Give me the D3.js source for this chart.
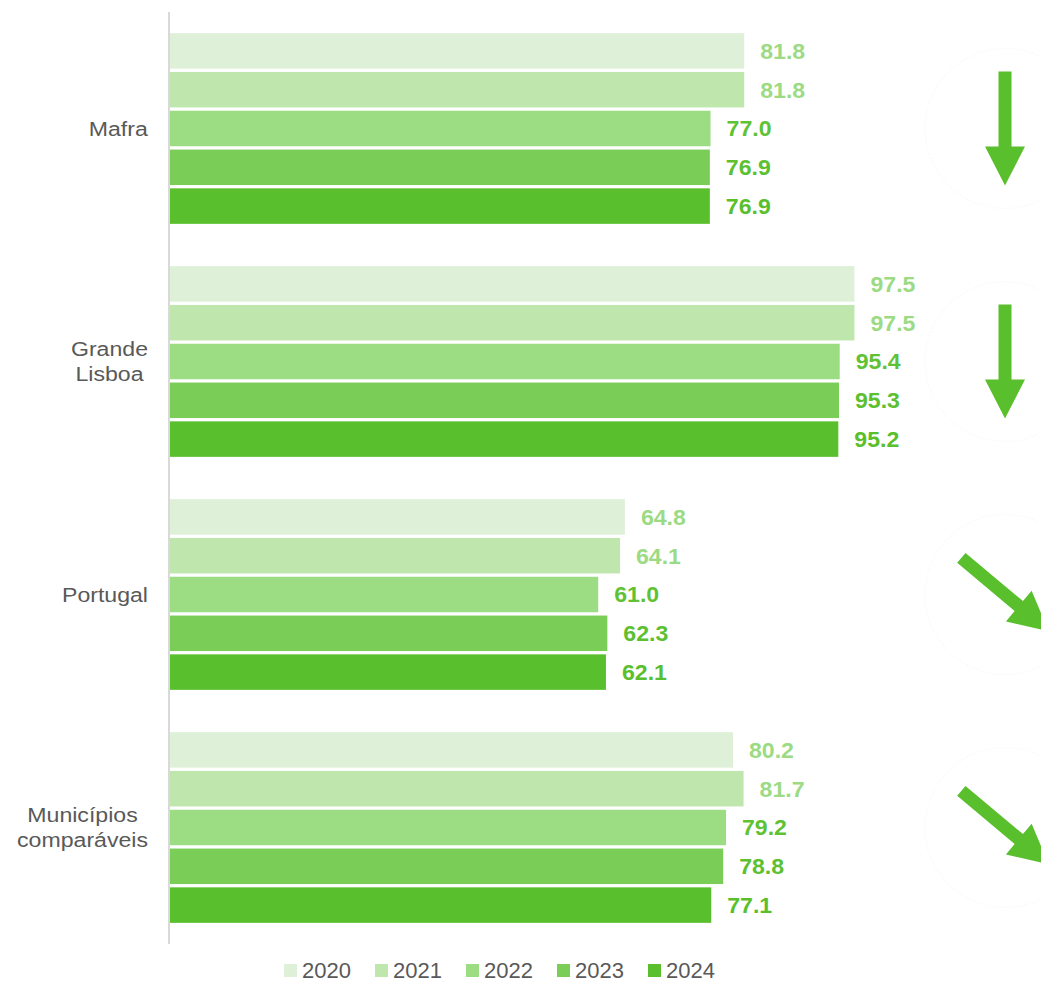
<!DOCTYPE html>
<html>
<head>
<meta charset="utf-8">
<script src="https://cdn.jsdelivr.net/npm/d3@7"></script>
<style>
  body { margin: 0; background: #fff; }
  svg text { font-family: Arial, "Liberation Sans", sans-serif; }
</style>
</head>
<body>
<svg id="chart"></svg>
<script>
// data
const categories = ["Mafra", "Grande Lisboa", "Portugal", "Municípios comparáveis"];
const categoryLines = [["Mafra"], ["Grande", "Lisboa"], ["Portugal"], ["Municípios", "comparáveis"]];
const years = ["2020", "2021", "2022", "2023", "2024"];
const values2020 = [81.8, 97.5, 64.8, 80.2];
const values2021 = [81.8, 97.5, 64.1, 81.7];
const values2022 = [77.0, 95.4, 61.0, 79.2];
const values2023 = [76.9, 95.3, 62.3, 78.8];
const values2024 = [76.9, 95.2, 62.1, 77.1];
// trend arrow direction in degrees (90 = straight down)
const trendAngles = [90, 90, 40, 40];

const seriesValues = [values2020, values2021, values2022, values2023, values2024];
const barColors = ["#dff0d8", "#bfe6ac", "#9cdc83", "#7acd57", "#5abf2c"];
const labelColors = ["#9cdb84", "#9cdb84", "#5fc235", "#5cc030", "#5abf2c"];

const W = 1041, H = 982;
const svg = d3.select("#chart").attr("width", W).attr("height", H);

const x = d3.scaleLinear().domain([0, 100]).range([170, 872]);
const y0 = d3.scaleBand().domain(categories).range([12, 944]).padding(0);
const y1 = d3.scaleBand().domain(years).range([0, y0.bandwidth()])
    .paddingInner(0.085).paddingOuter(0.545);

// axis line
svg.append("line")
    .attr("x1", 169).attr("x2", 169)
    .attr("y1", 12).attr("y2", 944)
    .attr("stroke", "#d9d9d9").attr("stroke-width", 2);

// bars
const rows = [];
categories.forEach((c, i) => {
  years.forEach((yr, j) => rows.push({ cat: c, year: yr, j: j, value: seriesValues[j][i] }));
});

svg.append("g").selectAll("rect")
  .data(rows)
  .enter().append("rect")
  .attr("x", x(0))
  .attr("y", d => y0(d.cat) + y1(d.year))
  .attr("width", d => x(d.value) - x(0))
  .attr("height", y1.bandwidth())
  .attr("fill", d => barColors[d.j]);

// value labels
svg.append("g").selectAll("text")
  .data(rows)
  .enter().append("text")
  .attr("transform", d => `translate(${x(d.value) + 16},${y0(d.cat) + y1(d.year) + y1.bandwidth() / 2}) scale(1.05,1)`)
  .attr("dy", "0.36em")
  .attr("font-size", 22)
  .attr("font-weight", "bold")
  .attr("fill", d => labelColors[d.j])
  .text(d => d.value.toFixed(1));

// category labels
categories.forEach((c, i) => {
  const lines = categoryLines[i];
  const cy = y0(c) + y0.bandwidth() / 2;
  const lineH = 25;
  const g = svg.append("g");
  const t = g.append("text")
    .attr("font-size", 21)
    .attr("fill", "#595959")
    .attr("text-anchor", "middle");
  lines.forEach((ln, k) => {
    t.append("tspan")
      .attr("x", 0)
      .attr("y", (k - (lines.length - 1) / 2) * lineH)
      .attr("dy", "0.35em")
      .text(ln);
  });
  const bw = t.node().getBBox().width * 1.1;
  g.attr("transform", `translate(${148 - bw / 2},${cy}) scale(1.1,1)`);
});

// trend arrows
const arrowPath = "M-57,-6.5 L18,-6.5 L18,-20 L57,0 L18,20 L18,6.5 L-57,6.5 Z";
categories.forEach((c, i) => {
  const cx = 1005, cy = y0(c) + y0.bandwidth() / 2;
  svg.append("circle")
    .attr("cx", cx).attr("cy", cy).attr("r", 80)
    .attr("fill", "none")
    .attr("stroke", "#f8f8f8")
    .attr("stroke-dasharray", "2,2");
  svg.append("path")
    .attr("d", arrowPath)
    .attr("transform", `translate(${cx},${cy}) rotate(${trendAngles[i]})`)
    .attr("fill", "#5abf2c");
});

// legend
const legend = svg.append("g").selectAll("g")
  .data(years)
  .enter().append("g")
  .attr("transform", (d, i) => `translate(${284 + i * 91},964)`);
legend.append("rect")
  .attr("width", 13).attr("height", 13)
  .attr("fill", (d, i) => barColors[i]);
legend.append("text")
  .attr("x", 18).attr("y", 14)
  .attr("font-size", 22)
  .attr("fill", "#595959")
  .text(d => d);
</script>
</body>
</html>
